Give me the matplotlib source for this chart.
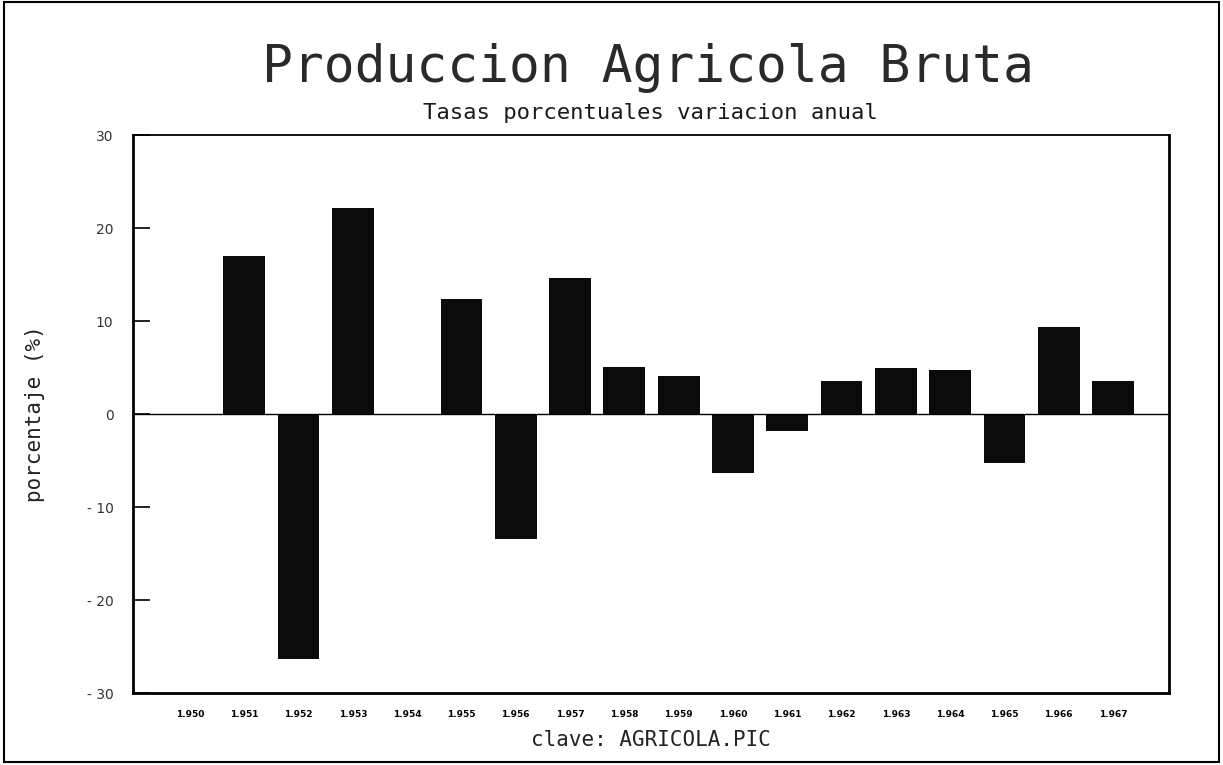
import matplotlib
matplotlib.use("Agg")
import matplotlib.pyplot as plt
from matplotlib.patches import Rectangle

# Tasas porcentuales de variacion anual
years = ['1.950', '1.951', '1.952', '1.953', '1.954', '1.955', '1.956', '1.957', '1.958',
         '1.959', '1.960', '1.961', '1.962', '1.963', '1.964', '1.965', '1.966', '1.967']
values = [0.0, 17.0, -26.3, 22.1, 0.0, 12.4, -13.4, 14.6, 5.1,
          4.1, -6.3, -1.8, 3.5, 5.0, 4.7, -5.3, 9.4, 3.6]
yticks = [-30, -20, -10, 0, 10, 20, 30]
ytick_labels = ['- 30', '- 20', '- 10', '0', '10', '20', '30']

mono = 'DejaVu Sans Mono'

fig = plt.figure(figsize=(12.23, 7.65), dpi=100)
ax = fig.add_axes([0.1087, 0.0941, 0.8471, 0.7294])

x = list(range(len(years)))
ax.bar(x, values, width=0.77, color='#0b0b0b', linewidth=0, zorder=2)
ax.axhline(0, color='black', linewidth=1.0, zorder=3)

ax.set_xlim(-1.05, len(years) - 1 + 1.03)
ax.set_ylim(-30, 30)

ax.set_yticks(yticks)
ax.set_yticklabels(ytick_labels, fontsize=10, color='#333333')
ax.tick_params(axis='y', direction='in', length=12, width=1.2, pad=14)
ax.set_xticks(x)
ax.set_xticklabels(years, fontsize=6.5, fontweight='bold')
ax.tick_params(axis='x', length=0, pad=12)

for side in ['left', 'bottom', 'right']:
    ax.spines[side].set_linewidth(2)
ax.spines['top'].set_linewidth(1.3)

ax.set_ylabel('porcentaje (%)', fontsize=15, family=mono, color='#222222', labelpad=30)
ax.set_xlabel('clave: AGRICOLA.PIC', fontsize=15, family=mono, color='#222222', labelpad=8)

fig.text(0.53, 0.911, 'Produccion Agricola Bruta', ha='center', va='center',
         fontsize=37, family=mono, color='#2a2a2a')
fig.text(0.532, 0.852, 'Tasas porcentuales variacion anual', ha='center', va='center',
         fontsize=16, family=mono, color='#1a1a1a')

# marco exterior
fig.patches.append(Rectangle((0.003, 0.004), 0.994, 0.993, transform=fig.transFigure,
                             fill=False, edgecolor='black', linewidth=1.5))

fig.savefig('out.png', dpi=100)
